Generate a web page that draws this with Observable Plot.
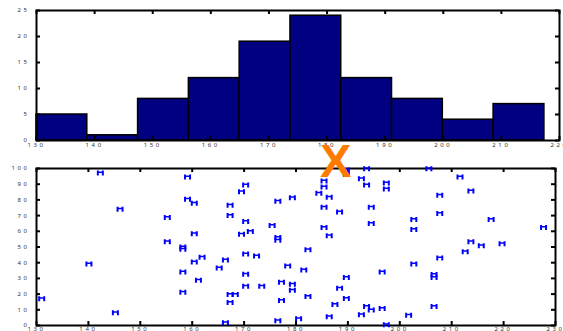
<!DOCTYPE html>
<html><head><meta charset="utf-8">
<script src="https://cdn.jsdelivr.net/npm/d3@7"></script>
<script src="https://cdn.jsdelivr.net/npm/@observablehq/plot@0.6"></script>
<style>
html,body{margin:0;padding:0;background:#fff;}
#wrap{position:relative;width:563px;height:331px;overflow:hidden;background:#fff;}
#top,#bot{position:absolute;left:0;}
#top{top:0px;}
#bot{top:160px;}
#wrap svg text{letter-spacing:2.6px;}
#logo{position:absolute;left:320px;top:137px;font:bold 47px "Liberation Sans",Arial,sans-serif;color:#ff7b00;line-height:1;z-index:5;}
</style></head>
<body>
<div id="wrap"><div id="top"></div><div id="bot"></div><div id="logo">X</div></div>
<script>
// Histogram (top panel)
const histEdges = [130, 138.74, 147.48, 156.22, 164.96, 173.7, 182.44, 191.18, 199.92, 208.66, 217.4];
const histCounts = [5, 1, 8, 12, 19, 24, 12, 8, 4, 7];
const histXTicks = [130, 140, 150, 160, 170, 180, 190, 200, 210, 220];
const histYTicks = [0, 5, 10, 15, 20, 25];

// Scatter (bottom panel)
const scatterX = [142.3,159.1,159.1,160.4,146.1,155.2,160.4,155.2,158.2,158.2,161.9,140.1,160.4,158.2,161.2,158.2,131.0,145.2,
  189.7,189.7,193.6,192.6,193.6,197.4,197.4,170.3,169.5,185.4,185.4,184.4,186.4,179.3,176.5,167.3,185.4,188.4,194.5,167.3,170.3,194.5,175.4,185.4,169.5,171.2,186.4,176.5,176.5,182.3,166.4,172.4,165.2,170.3,178.4,181.5,170.3,196.6,189.7,170.3,173.4,177.2,179.3,179.3,188.4,167.3,168.3,182.3,189.7,167.3,177.2,187.5,193.6,194.5,196.6,192.6,186.4,180.5,176.5,166.4,197.4,
  205.6,211.6,207.7,213.7,207.7,202.7,217.6,202.7,227.7,213.7,215.7,219.7,212.6,207.7,202.7,206.6,206.6,206.6,201.7];
const scatterY = [97.2,94.6,80.4,77.9,74.0,68.8,58.5,53.4,50.0,48.5,43.4,39.2,40.4,34.0,28.8,21.1,17.0,8.2,
  99.0,96.3,99.8,93.4,89.5,90.8,86.9,89.5,85.2,92.1,88.2,84.3,81.7,81.3,79.2,76.6,75.3,72.3,75.3,70.1,66.3,65.0,63.7,62.4,58.1,59.8,57.2,54.3,56.0,48.2,41.7,44.3,36.6,45.6,37.9,35.3,32.7,34.0,30.5,25.0,25.0,27.5,26.3,22.4,23.7,19.8,19.8,18.5,17.2,14.6,15.9,13.4,12.1,9.9,10.8,6.9,5.6,4.3,3.0,1.7,0.5,
  99.8,94.6,83.0,85.6,71.4,67.5,67.5,61.1,62.4,53.4,50.8,52.1,46.9,43.0,39.2,30.5,32.5,12.1,6.5];
const scatXTicks = [130, 140, 150, 160, 170, 180, 190, 200, 210, 220, 230];
const scatYTicks = [0, 10, 20, 30, 40, 50, 60, 70, 80, 90, 100];

const bins = histCounts.map((c, i) => ({x1: histEdges[i], x2: histEdges[i + 1], count: c}));
const pts = scatterX.map((x, i) => ({x, y: scatterY[i]}));

const labelStyle = {tickSize: 0, fontSize: 6, fill: "#333", label: null};

function boxTicks(xt, yt, fw, fh, len) {
  return [
    Plot.tickX(xt, {x: d => d, stroke: "black", strokeWidth: 2, insetTop: fh - len}),
    Plot.tickX(xt, {x: d => d, stroke: "black", strokeWidth: 2, insetBottom: fh - len}),
    Plot.tickY(yt, {y: d => d, stroke: "black", strokeWidth: 2, insetRight: fw - len}),
    Plot.tickY(yt, {y: d => d, stroke: "black", strokeWidth: 2, insetLeft: fw - len})
  ];
}

// top
{
  const W = 563, H = 160, mL = 36, mR = 4, mT = 10, mB = 20;
  const p = Plot.plot({
    width: W, height: H, marginLeft: mL, marginRight: mR, marginTop: mT, marginBottom: mB,
    x: {domain: [130, 220], label: null},
    y: {domain: [0, 25], label: null},
    marks: [
      Plot.rectY(bins, {x1: "x1", x2: "x2", y: "count", fill: "#000080", stroke: "black", strokeWidth: 1.5}),
      ...boxTicks(histXTicks, histYTicks, W - mL - mR, H - mT - mB, 4),
      Plot.frame({stroke: "black", strokeWidth: 2}),
      Plot.axisX({ticks: histXTicks, tickFormat: d => String(d), tickPadding: 2, ...labelStyle}),
      Plot.axisY({ticks: histYTicks, tickFormat: d => String(d), tickPadding: 7, ...labelStyle})
    ]
  });
  document.getElementById("top").appendChild(p);
}

// bottom
{
  const W = 563, H = 171, mL = 36, mR = 8, mT = 8, mB = 6;
  const hSym = {
    draw(ctx) {
      ctx.rect(-3.5, -2.5, 2, 5);
      ctx.rect(1.5, -2.5, 2, 5);
      ctx.rect(-1.5, -1.5, 3, 1.5);
    }
  };
  const p = Plot.plot({
    width: W, height: H, marginLeft: mL, marginRight: mR, marginTop: mT, marginBottom: mB,
    x: {domain: [130, 230], label: null},
    y: {domain: [0, 100], label: null},
    marks: [
      ...boxTicks(scatXTicks, scatYTicks, W - mL - mR, H - mT - mB, 4),
      Plot.frame({stroke: "black", strokeWidth: 2}),
      Plot.dot(pts, {x: "x", y: "y", symbol: hSym, fill: "#0000ff", stroke: "none"}),
      Plot.axisX({ticks: scatXTicks, tickFormat: d => String(d), tickPadding: 1, ...labelStyle}),
      Plot.axisY({ticks: scatYTicks, tickFormat: d => String(d), tickPadding: 7, ...labelStyle})
    ]
  });
  document.getElementById("bot").appendChild(p);
}
</script>
</body></html>
